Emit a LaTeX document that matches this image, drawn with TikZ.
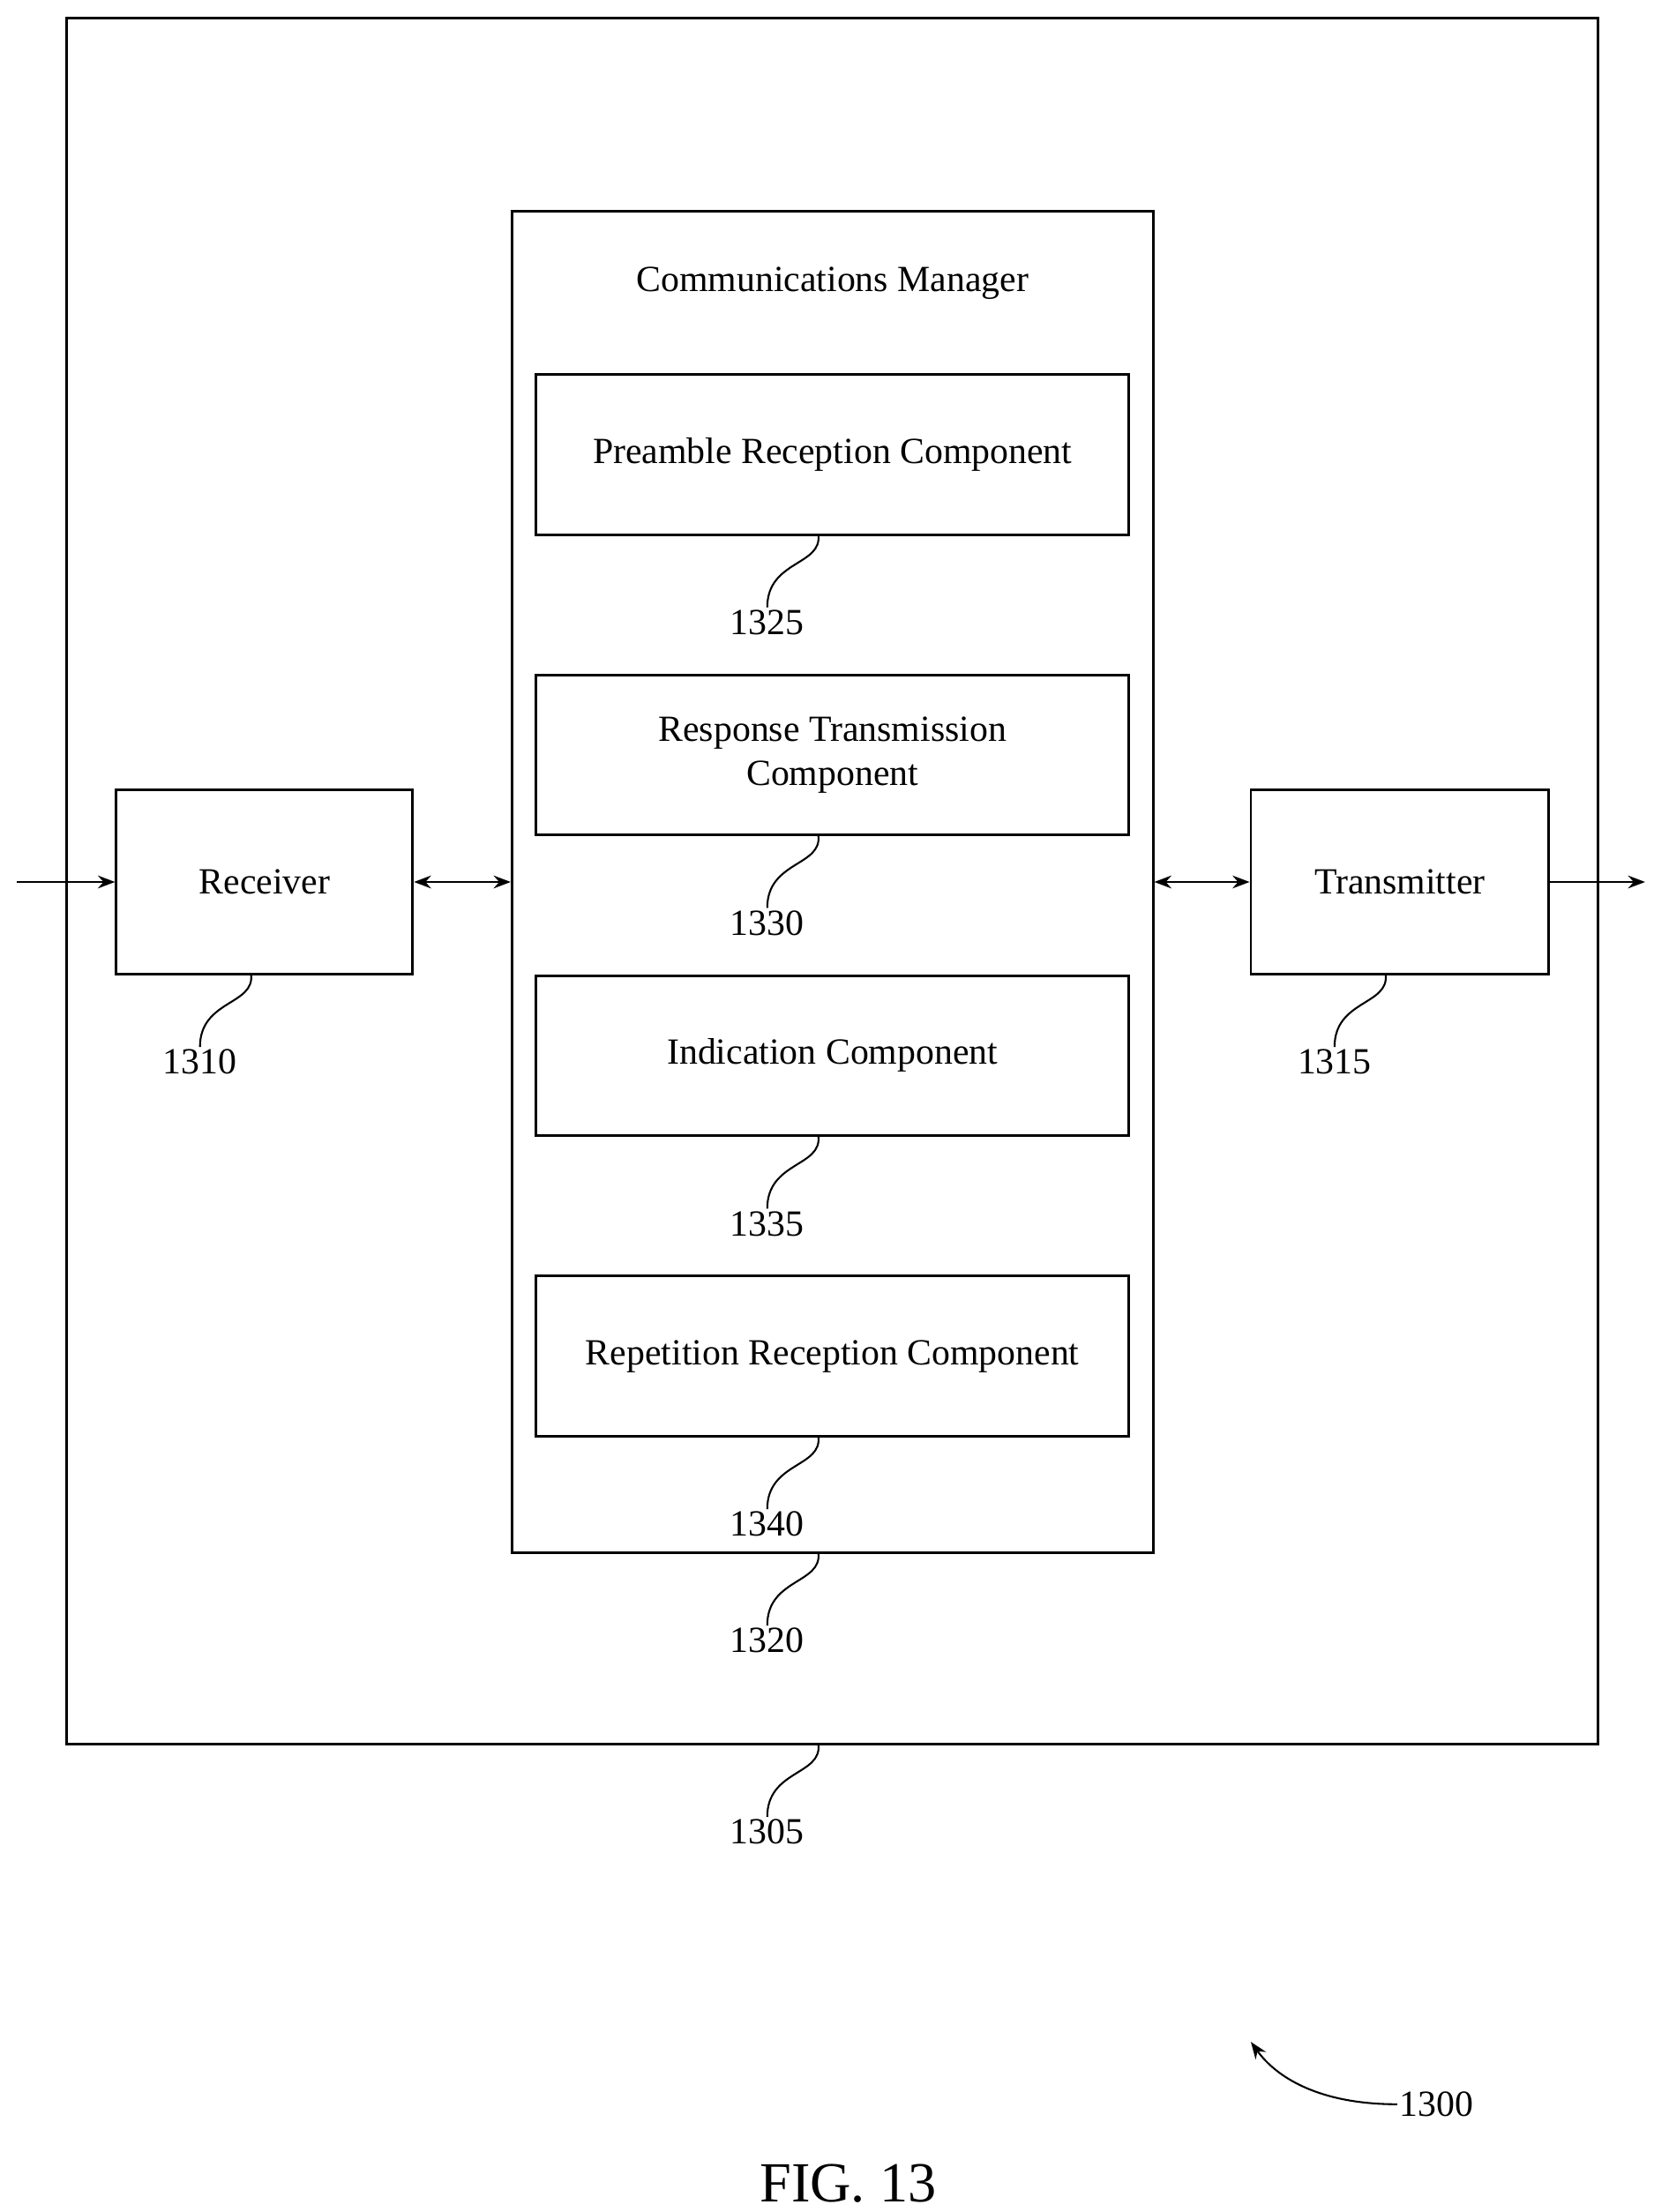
\documentclass[tikz,border=0pt]{standalone}
\usepackage{fontspec}
\setmainfont{Liberation Serif}
\usetikzlibrary{arrows.meta}
\begin{document}
\begin{tikzpicture}[x=1pt,y=-1pt,line width=1.8pt,
  box/.style={draw,rectangle,inner sep=0pt,align=center,font=\fontsize{26}{31}\selectfont},
  lab/.style={font=\fontsize{26}{31}\selectfont,inner sep=1pt},
  arr/.style={-{Stealth[length=12pt,width=9pt]}},
  darr/.style={{Stealth[length=12pt,width=9pt]}-{Stealth[length=12pt,width=9pt]}},
  sq/.style={line width=1.3pt}]
\useasboundingbox (0,0) rectangle (1166,1560);
\node[box,minimum width=1080pt,minimum height=1217pt] (dev) at (587,621.5) {};
\node[box,minimum width=452pt,minimum height=946pt] (cm) at (587,622) {};
\node[lab] (cmt) at (587,200) {Communications Manager};
\node[box,minimum width=418pt,minimum height=113pt] (c1) at (587,320.5) {Preamble Reception Component};
\node[box,minimum width=418pt,minimum height=113pt] (c2) at (587,532.5) {Response Transmission\\Component};
\node[box,minimum width=418pt,minimum height=113pt] (c3) at (587,744.5) {Indication Component};
\node[box,minimum width=418pt,minimum height=113pt] (c4) at (587,956.5) {Repetition Reception Component};
\node[box,minimum width=209pt,minimum height=130pt] (rx) at (186.5,622) {Receiver};
\node[box,minimum width=210pt,minimum height=130pt] (tx) at (987,622) {Transmitter};
\coordinate (in) at (12,622);
\coordinate (out) at (1160,622);
\draw[arr] (in) -- (rx.west);
\draw[darr] (rx.east) -- (cm.west|-rx.east);
\draw[darr] (cm.east|-tx.west) -- (tx.west);
\draw[arr] (tx.east) -- (out);
% labels
\foreach \n/\t/\x/\y in {l1325/1325/577/377, l1330/1330/577/589, l1335/1335/577/801, l1340/1340/577/1013, l1320/1320/577/1095, l1305/1305/577/1230, l1310/1310/177/687, l1315/1315/977/687}{
  \node[lab] (\n) at (\x-36,\y+62) {\t};
  \draw[sq] (\x,\y) .. controls (\x+3,\y+22) and (\x-36,\y+18) .. (\n.north);
}
\node[lab] (l1300) at (1013,1484) {1300};
\draw[sq,arr] (l1300.west) .. controls (930,1484) and (900,1465) .. (882,1440);
\node[font=\fontsize{40}{48}\selectfont] (fig) at (598,1540) {FIG. 13};
\end{tikzpicture}
\end{document}
